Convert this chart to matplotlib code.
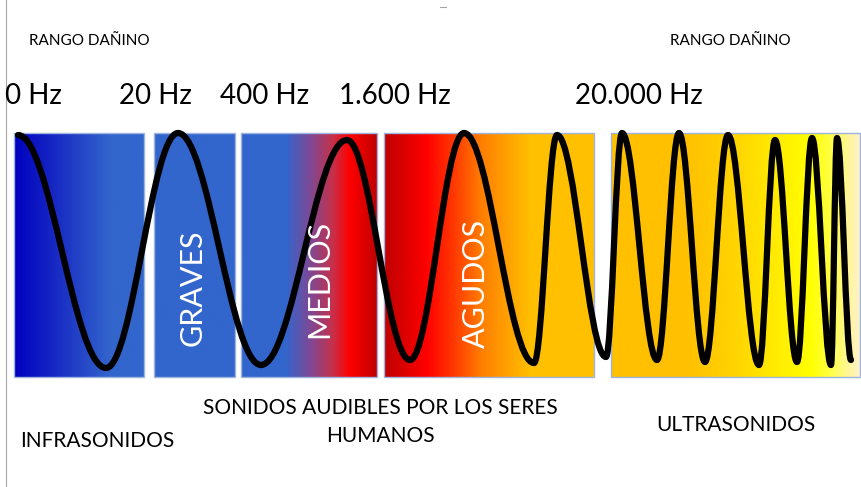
import matplotlib.pyplot as plt
import numpy as np
from matplotlib.colors import LinearSegmentedColormap
from matplotlib.path import Path
from matplotlib.patches import PathPatch, Rectangle

# Datos del dibujo
frecuencias = ["0 Hz", "20 Hz", "400 Hz", "1.600 Hz", "20.000 Hz"]
bandas_audibles = ["GRAVES", "MEDIOS", "AGUDOS"]
rango = "RANGO DAÑINO"
grupos = ["INFRASONIDOS", "SONIDOS AUDIBLES POR LOS SERES\nHUMANOS", "ULTRASONIDOS"]

# extremos de la onda (x, y en pixeles de la imagen)
onda_x = [18, 106, 178, 261, 347, 410, 464, 534, 557, 606, 622, 657, 679, 705,
          728, 759, 775, 797, 812, 831, 837, 851]
onda_y = [135, 368, 133, 365, 140, 360, 133, 363, 135, 357, 133, 360, 133, 362,
          135, 365, 140, 362, 138, 365, 138, 360]

# Layout (pixeles)
W, H = 861, 487
panel_x0 = [14, 154, 241, 384, 611]
panel_x1 = [144, 235, 377, 594, 860]
panel_y0, panel_y1 = 133, 377

gradientes = [
    [(0, "#0000c0"), (0.35, "#1a2ec4"), (0.75, "#3366cc"), (1, "#3366cc")],
    [(0, "#3366cc"), (1, "#3366cc")],
    [(0, "#3366cc"), (0.33, "#3366cc"), (0.5, "#7a4a99"), (0.68, "#c83048"),
     (0.8, "#ff0000"), (1, "#c00000")],
    [(0, "#c00000"), (0.1, "#dd0000"), (0.2, "#ff0000"), (0.32, "#ff3300"),
     (0.47, "#ff8000"), (0.7, "#ffc000"), (1, "#ffc000")],
    [(0, "#ffc000"), (0.3, "#ffc000"), (0.5, "#ffd400"), (0.8, "#ffff00"),
     (0.88, "#ffff40"), (1, "#fff2cc")],
]

plt.rcParams['font.family'] = ['Lato', 'DejaVu Sans']

fig = plt.figure(figsize=(W / 100, H / 100), dpi=100)
ax = fig.add_axes([0, 0, 1, 1])
ax.set_xlim(0, W)
ax.set_ylim(H, 0)
ax.axis('off')

# paneles con degradado
fila = np.linspace(0, 1, 256).reshape(1, -1)
for x0, x1, stops in zip(panel_x0, panel_x1, gradientes):
    cmap = LinearSegmentedColormap.from_list("g", stops)
    ax.imshow(fila, cmap=cmap, aspect='auto', extent=(x0, x1, panel_y1, panel_y0),
              interpolation='bilinear', zorder=1)
    ax.add_patch(Rectangle((x0, panel_y0), x1 - x0, panel_y1 - panel_y0,
                           fill=False, ec="#9db4de", lw=1, zorder=2))

# onda dibujada con curvas bezier entre extremos
k = 0.37
verts = [(onda_x[0], onda_y[0])]
codes = [Path.MOVETO]
for i in range(1, len(onda_x)):
    dx = onda_x[i] - onda_x[i - 1]
    verts += [(onda_x[i - 1] + k * dx, onda_y[i - 1]),
              (onda_x[i] - k * dx, onda_y[i]),
              (onda_x[i], onda_y[i])]
    codes += [Path.CURVE4] * 3
ax.add_patch(PathPatch(Path(verts, codes), fill=False, ec="black", lw=4.5,
                       capstyle='round', joinstyle='round', zorder=3))

# linea gris a la izquierda
ax.plot([6, 6], [0, H], color="#a6a6a6", lw=0.8, zorder=0)
ax.plot([440, 446], [7, 7], color="#a6a6a6", lw=0.8, zorder=0)

# textos
ax.text(89, 41, rango, fontsize=11, ha='center', va='center')
ax.text(730, 41, rango, fontsize=11, ha='center', va='center')

frec_x = [33, 155, 265, 395, 639]
for lbl, x in zip(frecuencias, frec_x):
    ax.text(x, 96, lbl, fontsize=20, ha='center', va='center')

banda_x = [193, 319, 476]
banda_y = [288, 279, 283]
for lbl, x, y in zip(bandas_audibles, banda_x, banda_y):
    ax.text(x, y, lbl, fontsize=22, color="white", rotation=90,
            ha='center', va='center', zorder=4)

grupo_x = [97, 380, 736]
grupo_y = [441, 422, 425]
for lbl, x, y in zip(grupos, grupo_x, grupo_y):
    ax.text(x, y, lbl, fontsize=15, ha='center', va='center', linespacing=1.45)

fig.savefig("out.png", dpi=100)
